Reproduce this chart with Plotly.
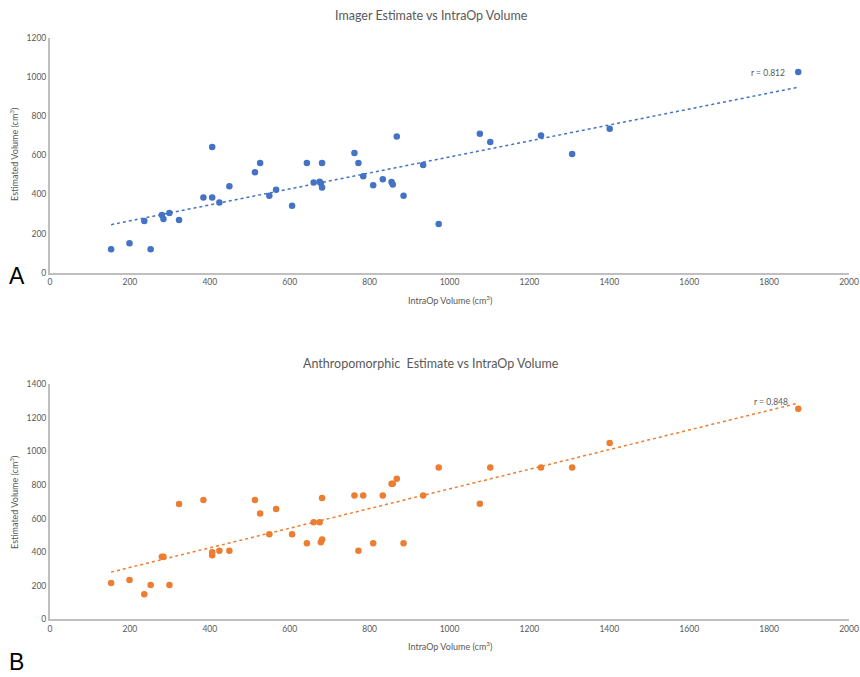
import numpy as np
import plotly.graph_objects as go

# Intra-operative volume (cm3), shared by both panels
intraop = [153, 199, 252, 236, 280, 284, 299, 323, 384, 406, 406, 424, 449, 513,
           526, 549, 566, 606, 643, 660, 675, 678, 681, 681, 762, 772, 784, 809,
           833, 855, 858, 868, 885, 934, 973, 1076, 1102, 1229, 1307, 1401, 1873]

# Panel A: imager estimate (cm3)
imager = [120, 150, 120, 264, 295, 274, 305, 269, 384, 384, 642, 358, 441, 513,
          560, 393, 424, 342, 560, 460, 465, 457, 435, 560, 611, 560, 492, 446,
          477, 463, 451, 695, 393, 550, 249, 710, 667, 700, 606, 735, 1025]

# Panel B: anthropomorphic estimate (cm3)
anthro = [216, 234, 204, 149, 373, 373, 204, 687, 711, 399, 381, 409, 409, 711,
          631, 506, 657, 506, 453, 578, 578, 459, 476, 723, 737, 409, 737, 453,
          737, 808, 808, 838, 453, 737, 905, 689, 905, 905, 905, 1050, 1255]

titles = ["Imager Estimate vs IntraOp Volume",
          "Anthropomorphic  Estimate vs IntraOp Volume"]
r_labels = ["r = 0.812", "r = 0.848"]
panel_letters = ["A", "B"]
x_title = "IntraOp Volume (cm<sup>3</sup>)"
y_title = "Estimated Volume (cm<sup>3</sup>)"
x_ticks = list(range(0, 2001, 200))
y_ranges = [1200, 1400]

BLUE = "#4472C4"
ORANGE = "#ED7D31"
GREY_TXT = "#595959"
AXIS_LINE = "#BFBFBF"
FONT = "Lato, Open Sans, sans-serif"

W, H = 860, 677
xdom = [50 / W, 849 / W]
ydoms = [[(H - 272.7) / H, (H - 37.7) / H], [(H - 619.3) / H, (H - 384.3) / H]]


def px_x(px):
    return px / W


def px_y(py):
    return 1 - py / H


fig = go.Figure()

series = [imager, anthro]
colors = [BLUE, ORANGE]
for i in range(2):
    xa = "x" if i == 0 else "x2"
    ya = "y" if i == 0 else "y2"
    yv = series[i]
    fig.add_trace(go.Scatter(
        x=intraop, y=yv, mode="markers", xaxis=xa, yaxis=ya,
        marker=dict(color=colors[i], size=6.5, line=dict(width=0)),
        showlegend=False, hoverinfo="x+y"))
    # least-squares trendline across the observed range
    slope, icpt = np.polyfit(intraop, yv, 1)
    xs = np.array([min(intraop), max(intraop)])
    fig.add_trace(go.Scatter(
        x=xs, y=slope * xs + icpt, mode="lines", xaxis=xa, yaxis=ya,
        line=dict(color=colors[i], width=1.5, dash="dot"),
        showlegend=False, hoverinfo="skip"))

axis_common = dict(
    showgrid=False, zeroline=False, showline=True, linecolor=AXIS_LINE,
    linewidth=2, ticks="", automargin=False,
    tickfont=dict(size=8.5, color=GREY_TXT, family=FONT), fixedrange=True)

layout = dict(
    width=W, height=H, margin=dict(l=0, r=0, t=0, b=0, autoexpand=False),
    paper_bgcolor="white", plot_bgcolor="white", font=dict(family=FONT),
)
for i in range(2):
    sx = "" if i == 0 else "2"
    layout["xaxis" + sx] = dict(
        axis_common, domain=xdom, range=[0, 2000], tickvals=x_ticks,
        anchor="y" + sx)
    layout["yaxis" + sx] = dict(
        axis_common, domain=ydoms[i], range=[0, y_ranges[i]], dtick=200,
        anchor="x" + sx)
fig.update_layout(**layout)

annotations = []
title_y = [16, 363]
letter_y = [276, 662]
xtitle_y = [300, 646]
ytitle_y = [155, 503]
r_pos = [(787, 72.5), (790, 401.5)]
for i in range(2):
    annotations.append(dict(
        text=titles[i], xref="paper", yref="paper", x=px_x(431), y=px_y(title_y[i]),
        showarrow=False, font=dict(size=12.5, color=GREY_TXT, family=FONT),
        xanchor="center", yanchor="middle"))
    annotations.append(dict(
        text=panel_letters[i], xref="paper", yref="paper", x=px_x(8), y=px_y(letter_y[i]),
        showarrow=False, font=dict(size=23, color="black", family="Liberation Sans, Arial"),
        xanchor="left", yanchor="middle", borderpad=0))
    annotations.append(dict(
        text=x_title, xref="paper", yref="paper", x=px_x(450), y=px_y(xtitle_y[i]),
        showarrow=False, font=dict(size=9, color=GREY_TXT, family=FONT),
        xanchor="center", yanchor="middle"))
    annotations.append(dict(
        text=y_title, xref="paper", yref="paper", x=px_x(14), y=px_y(ytitle_y[i]),
        showarrow=False, textangle=-90, font=dict(size=9, color=GREY_TXT, family=FONT),
        xanchor="center", yanchor="middle"))
    # correlation label
    annotations.append(dict(
        text=r_labels[i], xref="paper", yref="paper",
        x=px_x(r_pos[i][0]), y=px_y(r_pos[i][1]),
        showarrow=False, font=dict(size=8.5, color=GREY_TXT, family=FONT),
        xanchor="right", yanchor="middle"))
fig.update_layout(annotations=annotations)

fig.write_html("out.html")
